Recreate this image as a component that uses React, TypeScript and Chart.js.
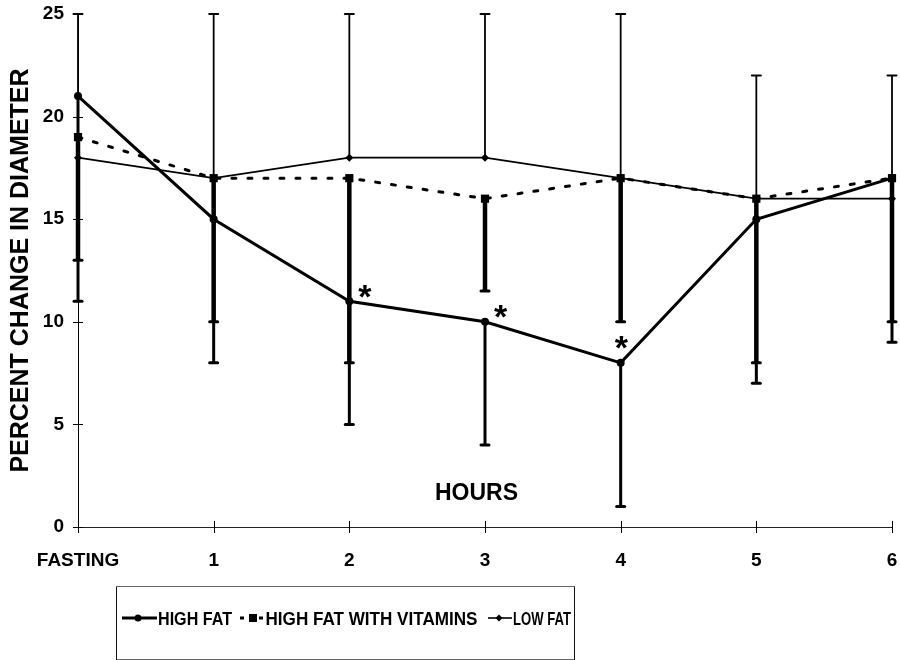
import React, { useEffect, useRef } from "react";
import { Chart, registerables } from "chart.js";

Chart.register(...registerables);

const categories = ["FASTING", "1", "2", "3", "4", "5", "6"];
const highFat = [21, 15, 11, 10, 8, 15, 17];
const highFatVit = [19, 17, 17, 16, 17, 16, 17];
const lowFat = [18, 17, 18, 18, 17, 16, 16];
const lowFatUpper = [25, 25, 25, 25, 25, 22, 22];
const highFatVitLower = [13, 10, 8, 11.5, 10, 8, 10];
const highFatLower = [11, 8, 5, 4, 1, 7, 9];
const significant = [false, false, true, true, true, false, false];
const yTicks = [0, 5, 10, 15, 20, 25];
const seriesNames = ["HIGH FAT", "HIGH FAT WITH VITAMINS", "LOW FAT"];
const yTitle = "PERCENT CHANGE IN DIAMETER";
const xTitle = "HOURS";

const FONT = "'Liberation Sans', Arial, Helvetica, sans-serif";

function fitText(ctx: CanvasRenderingContext2D, text: string, x: number, baseline: number, targetW: number, size: number) {
  ctx.font = `bold ${size}px ${FONT}`;
  const w = ctx.measureText(text).width;
  ctx.save();
  ctx.translate(x, baseline);
  ctx.scale(targetW / w, 1);
  ctx.textAlign = "left";
  ctx.textBaseline = "alphabetic";
  ctx.fillText(text, 0, 0);
  ctx.restore();
}

const overlayPlugin = {
  id: "overlay",
  beforeDatasetsDraw(chart: any) {
    const { ctx, scales, chartArea } = chart;
    const x = scales.x;
    const y = scales.y;
    ctx.save();
    ctx.strokeStyle = "#000";
    ctx.fillStyle = "#000";
    // axis tick marks crossing the axes
    ctx.lineWidth = 1;
    ctx.beginPath();
    yTicks.forEach((v) => {
      const py = Math.round(y.getPixelForValue(v)) + 0.5;
      ctx.moveTo(chartArea.left - 5, py);
      ctx.lineTo(chartArea.left + 5, py);
    });
    categories.forEach((_, i) => {
      const px = Math.round(x.getPixelForValue(i)) + 0.5;
      ctx.moveTo(px, chartArea.bottom - 6);
      ctx.lineTo(px, chartArea.bottom + 6);
    });
    ctx.stroke();

    const bar = (i: number, from: number, to: number, w: number, capW: number, capLW: number) => {
      const px = x.getPixelForValue(i);
      const y1 = y.getPixelForValue(from);
      const y2 = y.getPixelForValue(to);
      ctx.lineCap = "butt";
      ctx.lineWidth = w;
      ctx.beginPath();
      ctx.moveTo(px, y1);
      ctx.lineTo(px, y2);
      ctx.stroke();
      ctx.lineCap = "round";
      ctx.lineWidth = capLW;
      ctx.beginPath();
      ctx.moveTo(px - capW / 2, y2);
      ctx.lineTo(px + capW / 2, y2);
      ctx.stroke();
    };
    categories.forEach((_, i) => {
      bar(i, lowFat[i], lowFatUpper[i], 1.8, 9, 2);
      bar(i, highFatVit[i], highFatVitLower[i], 4.5, 8, 3);
      bar(i, highFat[i], highFatLower[i], 3, 8, 3);
    });
    ctx.restore();
  },
  afterDatasetsDraw(chart: any) {
    const { ctx, scales } = chart;
    const x = scales.x;
    const y = scales.y;
    ctx.save();
    ctx.fillStyle = "#000";
    // significance asterisks
    ctx.font = `bold 34px ${FONT}`;
    const m = ctx.measureText("*");
    const gw = m.actualBoundingBoxRight + m.actualBoundingBoxLeft;
    significant.forEach((s, i) => {
      if (!s) return;
      const px = x.getPixelForValue(i);
      const py = y.getPixelForValue(highFat[i]);
      const rising = i < highFat.length - 1 && highFat[i + 1] > highFat[i];
      const cx = rising ? px + 1 : px + 16;
      const cy = rising ? py - 20 : py - 10;
      const bx = cx - gw / 2 + m.actualBoundingBoxLeft;
      const by = cy + (m.actualBoundingBoxAscent - m.actualBoundingBoxDescent) / 2;
      ctx.textAlign = "left";
      ctx.textBaseline = "alphabetic";
      ctx.fillText("*", bx, by);
    });
    // HOURS label inside the plot
    ctx.font = `bold 23px ${FONT}`;
    ctx.textAlign = "center";
    ctx.textBaseline = "alphabetic";
    ctx.fillText(xTitle, x.getPixelForValue(3) - 8.5, y.getPixelForValue(1.3));
    ctx.restore();
  },
  afterDraw(chart: any) {
    const { ctx } = chart;
    ctx.save();
    // legend box
    ctx.lineWidth = 1;
    ctx.strokeStyle = "#666";
    ctx.beginPath();
    ctx.moveTo(116.5, 586.5);
    ctx.lineTo(574.5, 586.5);
    ctx.moveTo(116.5, 659.5);
    ctx.lineTo(574.5, 659.5);
    ctx.stroke();
    ctx.strokeStyle = "#111";
    ctx.beginPath();
    ctx.moveTo(116.5, 586.5);
    ctx.lineTo(116.5, 660);
    ctx.moveTo(574.5, 586.5);
    ctx.lineTo(574.5, 660);
    ctx.stroke();

    const cy = 618;
    ctx.strokeStyle = "#000";
    ctx.fillStyle = "#000";
    // high fat sample
    ctx.lineWidth = 3;
    ctx.beginPath();
    ctx.moveTo(122, cy);
    ctx.lineTo(157, cy);
    ctx.stroke();
    ctx.beginPath();
    ctx.arc(138, cy, 3.5, 0, Math.PI * 2);
    ctx.fill();
    fitText(ctx, seriesNames[0], 158, 625, 74, 19);
    // high fat with vitamins sample
    ctx.fillRect(240, cy - 1.5, 4, 3);
    ctx.fillRect(249, cy - 4, 8, 8);
    ctx.fillRect(259, cy - 1.5, 4, 3);
    fitText(ctx, seriesNames[1], 265.5, 625, 212, 19);
    // low fat sample
    ctx.lineWidth = 1.6;
    ctx.beginPath();
    ctx.moveTo(488, cy);
    ctx.lineTo(512, cy);
    ctx.stroke();
    ctx.beginPath();
    ctx.moveTo(499 - 3.5, cy);
    ctx.lineTo(499, cy - 3.5);
    ctx.lineTo(499 + 3.5, cy);
    ctx.lineTo(499, cy + 3.5);
    ctx.closePath();
    ctx.fill();
    fitText(ctx, seriesNames[2], 513, 625, 58, 19);
    ctx.restore();
  },
};

export default function App() {
  const ref = useRef<HTMLCanvasElement | null>(null);
  useEffect(() => {
    if (!ref.current) return;
    const chart = new Chart(ref.current, {
      type: "line",
      data: {
        labels: categories,
        datasets: [
          {
            label: seriesNames[0],
            data: highFat,
            borderColor: "#000",
            backgroundColor: "#000",
            borderWidth: 3,
            pointStyle: "circle",
            pointRadius: 4,
            pointBorderWidth: 0,
            tension: 0,
            clip: false,
          },
          {
            label: seriesNames[1],
            data: highFatVit,
            borderColor: "#000",
            backgroundColor: "#000",
            borderWidth: 3,
            borderDash: [4, 12],
            borderCapStyle: "round",
            pointStyle: "rect",
            pointRadius: 5.8,
            pointBorderWidth: 0,
            tension: 0,
            clip: false,
          },
          {
            label: seriesNames[2],
            data: lowFat,
            borderColor: "#000",
            backgroundColor: "#000",
            borderWidth: 1.8,
            pointStyle: "rectRot",
            pointRadius: 4,
            pointBorderWidth: 0,
            tension: 0,
            clip: false,
          },
        ],
      },
      options: {
        responsive: false,
        animation: false,
        layout: { padding: { left: 0, top: 14, right: 8, bottom: 0 } },
        plugins: {
          legend: { display: false },
          tooltip: { enabled: false },
        },
        scales: {
          x: {
            type: "category",
            offset: false,
            grid: { display: true, drawOnChartArea: false, drawTicks: false },
            border: { display: true, color: "#222", width: 1 },
            ticks: {
              color: "#000",
              padding: 22,
              maxRotation: 0,
              autoSkip: false,
              font: { family: FONT, size: 19, weight: "bold" },
            },
            afterFit: (scale: any) => {
              scale.height = 133;
              scale.paddingLeft = 0;
              scale.paddingRight = 0;
            },
          },
          y: {
            min: 0,
            max: 25,
            grid: { display: true, drawOnChartArea: false, drawTicks: false },
            border: { display: true, color: "#000", width: 1 },
            ticks: {
              stepSize: 5,
              color: "#000",
              padding: 14,
              font: { family: FONT, size: 19, weight: "bold" },
            },
            title: {
              display: true,
              text: yTitle,
              color: "#000",
              padding: { top: 6, bottom: 0 },
              font: { family: FONT, size: 25, weight: "bold" },
            },
            afterFit: (scale: any) => {
              scale.width = 78;
              scale.paddingTop = 0;
              scale.paddingBottom = 0;
            },
          },
        },
      },
      plugins: [overlayPlugin],
    });
    return () => chart.destroy();
  }, []);
  return (
    <div style={{ position: "absolute", left: 0, top: 0, width: 900, height: 660, background: "#fff" }}>
      <canvas ref={ref} width={900} height={660} />
    </div>
  );
}
